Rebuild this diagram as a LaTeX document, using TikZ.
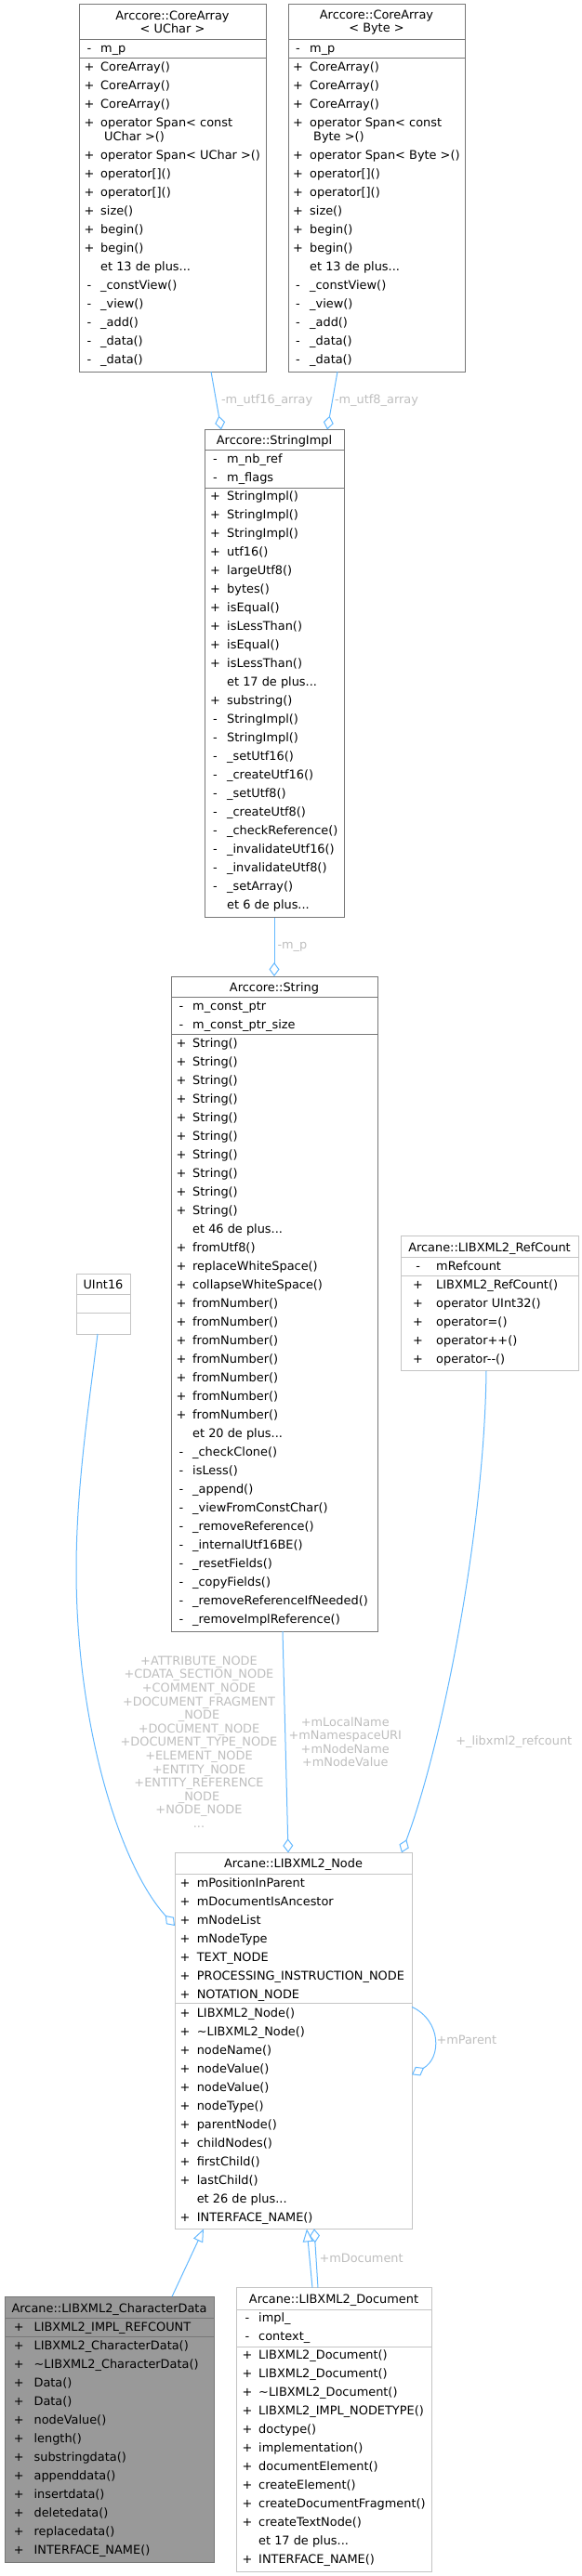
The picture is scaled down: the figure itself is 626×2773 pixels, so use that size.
\documentclass[tikz,border=0pt]{standalone}
\usepackage{fontspec}
\setmainfont{DejaVu Sans}
\usepackage{xcolor}
\usepackage{tikz}
\usetikzlibrary{arrows.meta,positioning,calc}
\definecolor{edgeblue}{HTML}{63B8FF}
\definecolor{lblgrey}{HTML}{BEBEBE}
\definecolor{darkframe}{HTML}{777777}
\definecolor{lightframe}{HTML}{C4C4C4}
\definecolor{basefill}{HTML}{999999}
\newcommand{\dxfont}{\fontsize{12.9}{14.6}\selectfont}
\newcommand{\moredots}{...}
% one row per member: box prefix, symbol x, text x, first row centre, sym/text list
\newcommand{\memberrows}[5]{%
  \foreach \v/\t [count=\i] in {#5} {
    \node[vis] (#1v\i) at (#2,{#4+20*(\i-1)+4.7}) {\v};
    \node[member] (#1m\i) at (#3,{#4+20*(\i-1)+4.7}) {\t};
  }%
}

\begin{document}
\begin{tikzpicture}[x=1pt, y=-1pt,
  every node/.style={font=\dxfont},
  cls/.style={draw=darkframe, line width=1pt, fill=white, anchor=north west,
    inner sep=0pt, outer sep=0pt},
  plaincls/.style={cls, draw=lightframe},
  basecls/.style={cls, fill=basefill},
  div/.style={darkframe, line width=1pt},
  plaindiv/.style={lightframe, line width=1pt},
  ttl/.style={inner sep=0pt, anchor=base},
  vis/.style={inner sep=0pt, anchor=base},
  member/.style={inner sep=0pt, anchor=base west},
  agg/.style={edgeblue, line width=1pt, -{Diamond[open, length=15pt, width=11pt]}},
  inh/.style={edgeblue, line width=1pt, -{Triangle[open, length=14pt, width=11pt]}},
  lbl/.style={text=lblgrey, inner sep=1pt, align=center}
]
\useasboundingbox (0,0) rectangle (626,2773);

% CoreArray< UChar >
\node[cls, minimum width=201, minimum height=395.3] (uchar) at (85,4.7) {};
\node[ttl, anchor=center, align=center] (uchar-t) at (185.5,24) {Arccore::CoreArray\\< UChar >};
\draw[div] ([yshift=-37.6pt]uchar.north west) -- ([yshift=-37.6pt]uchar.north east);
\draw[div] ([yshift=-57.6pt]uchar.north west) -- ([yshift=-57.6pt]uchar.north east);
\memberrows{uchar-a}{96}{108}{51.7}{-/m\_p}
\memberrows{uchar-f}{96}{108}{71.7}{+/CoreArray(), +/CoreArray(), +/CoreArray()}
\node[vis] (uchar-s) at (96,136.4) {+};
\node[member] (uchar-s1) at (108,136.4) {operator Span< const};
\node[member] (uchar-s2) at (112,151.4) {UChar >()};
\memberrows{uchar-g}{96}{108}{166.7}{+/operator Span< UChar >(), +/operator[](), +/operator[](),
  +/size(), +/begin(), +/begin(), {}/et 13 de plus\moredots, -/\_constView(), -/\_view(),
  -/\_add(), -/\_data(), -/\_data()}

% CoreArray< Byte >
\node[cls, minimum width=190, minimum height=395.3] (ubyte) at (310,4.7) {};
\node[ttl, anchor=center, align=center] (ubyte-t) at (405,24) {Arccore::CoreArray\\< Byte >};
\draw[div] ([yshift=-37.6pt]ubyte.north west) -- ([yshift=-37.6pt]ubyte.north east);
\draw[div] ([yshift=-57.6pt]ubyte.north west) -- ([yshift=-57.6pt]ubyte.north east);
\memberrows{ubyte-a}{320.5}{333}{51.7}{-/m\_p}
\memberrows{ubyte-f}{320.5}{333}{71.7}{+/CoreArray(), +/CoreArray(), +/CoreArray()}
\node[vis] (ubyte-s) at (320.5,136.4) {+};
\node[member] (ubyte-s1) at (333,136.4) {operator Span< const};
\node[member] (ubyte-s2) at (337,151.4) {Byte >()};
\memberrows{ubyte-g}{320.5}{333}{166.7}{+/operator Span< Byte >(), +/operator[](), +/operator[](),
  +/size(), +/begin(), +/begin(), {}/et 13 de plus\moredots, -/\_constView(), -/\_view(),
  -/\_add(), -/\_data(), -/\_data()}

% StringImpl
\node[cls, minimum width=150, minimum height=525] (strimpl) at (220,462.5) {};
\node[ttl] (strimpl-t) at (295,478.4) {Arccore::StringImpl};
\draw[div] ([yshift=-22.3pt]strimpl.north west) -- ([yshift=-22.3pt]strimpl.north east);
\draw[div] ([yshift=-62.5pt]strimpl.north west) -- ([yshift=-62.5pt]strimpl.north east);
\memberrows{strimpl-a}{231.5}{244}{494}{-/m\_nb\_ref, -/m\_flags}
\memberrows{strimpl-f}{231.5}{244}{534}{+/StringImpl(), +/StringImpl(), +/StringImpl(), +/utf16(),
  +/largeUtf8(), +/bytes(), +/isEqual(), +/isLessThan(), +/isEqual(), +/isLessThan(),
  {}/et 17 de plus\moredots, +/substring(), -/StringImpl(), -/StringImpl(), -/\_setUtf16(),
  -/\_createUtf16(), -/\_setUtf8(), -/\_createUtf8(), -/\_checkReference(),
  -/\_invalidateUtf16(), -/\_invalidateUtf8(), -/\_setArray(), {}/et 6 de plus\moredots}

% String
\node[cls, minimum width=222, minimum height=705] (string) at (184,1051) {};
\node[ttl] (string-t) at (295,1067.4) {Arccore::String};
\draw[div] ([yshift=-22.3pt]string.north west) -- ([yshift=-22.3pt]string.north east);
\draw[div] ([yshift=-62.3pt]string.north west) -- ([yshift=-62.3pt]string.north east);
\memberrows{string-a}{195}{207}{1082.7}{-/m\_const\_ptr, -/m\_const\_ptr\_size}
\memberrows{string-f}{195}{207}{1122.7}{+/String(), +/String(), +/String(), +/String(), +/String(),
  +/String(), +/String(), +/String(), +/String(), +/String(), {}/et 46 de plus\moredots,
  +/fromUtf8(), +/replaceWhiteSpace(), +/collapseWhiteSpace(), +/fromNumber(), +/fromNumber(),
  +/fromNumber(), +/fromNumber(), +/fromNumber(), +/fromNumber(), +/fromNumber(),
  {}/et 20 de plus\moredots, -/\_checkClone(), -/isLess(), -/\_append(), -/\_viewFromConstChar(),
  -/\_removeReference(), -/\_internalUtf16BE(), -/\_resetFields(), -/\_copyFields(),
  -/\_removeReferenceIfNeeded(), -/\_removeImplReference()}

% UInt16
\node[plaincls, minimum width=58, minimum height=65] (uint16) at (82,1371) {};
\node[ttl] (uint16-t) at (111,1387.4) {UInt16};
\draw[plaindiv] ([yshift=-22.3pt]uint16.north west) -- ([yshift=-22.3pt]uint16.north east);
\draw[plaindiv] ([yshift=-42.3pt]uint16.north west) -- ([yshift=-42.3pt]uint16.north east);

% LIBXML2_RefCount
\node[plaincls, minimum width=191, minimum height=145] (refcount) at (431,1330.7) {};
\node[ttl] (refcount-t) at (526.5,1347.4) {Arcane::LIBXML2\_RefCount};
\draw[plaindiv] ([yshift=-22.6pt]refcount.north west) -- ([yshift=-22.6pt]refcount.north east);
\draw[plaindiv] ([yshift=-42.6pt]refcount.north west) -- ([yshift=-42.6pt]refcount.north east);
\memberrows{refcount-a}{449.6}{469}{1362.7}{-/mRefcount}
\memberrows{refcount-f}{449.6}{469}{1382.7}{+/LIBXML2\_RefCount(), +/operator UInt32(),
  +/operator=(), +/operator++(), +/operator-{}-()}

% LIBXML2_Node
\node[plaincls, minimum width=255, minimum height=405] (xmlnode) at (188,1994.3) {};
\node[ttl] (xmlnode-t) at (315.5,2010.7) {Arcane::LIBXML2\_Node};
\draw[plaindiv] ([yshift=-23pt]xmlnode.north west) -- ([yshift=-23pt]xmlnode.north east);
\draw[plaindiv] ([yshift=-162.4pt]xmlnode.north west) -- ([yshift=-162.4pt]xmlnode.north east);
\memberrows{xmlnode-a}{199}{211.6}{2026.3}{+/mPositionInParent, +/mDocumentIsAncestor,
  +/mNodeList, +/mNodeType, +/TEXT\_NODE, +/PROCESSING\_INSTRUCTION\_NODE, +/NOTATION\_NODE}
\memberrows{xmlnode-f}{199}{211.6}{2166.3}{+/LIBXML2\_Node(), +/\textasciitilde LIBXML2\_Node(),
  +/nodeName(), +/nodeValue(), +/nodeValue(), +/nodeType(), +/parentNode(), +/childNodes(),
  +/firstChild(), +/lastChild(), {}/et 26 de plus\moredots, +/INTERFACE\_NAME()}

% LIBXML2_CharacterData
\node[basecls, minimum width=225, minimum height=286] (chardata) at (5,2472.3) {};
\node[ttl] (chardata-t) at (117.5,2489) {Arcane::LIBXML2\_CharacterData};
\draw[div] ([yshift=-23.4pt]chardata.north west) -- ([yshift=-23.4pt]chardata.north east);
\draw[div] ([yshift=-42.7pt]chardata.north west) -- ([yshift=-42.7pt]chardata.north east);
\memberrows{chardata-a}{20.4}{36.4}{2504.3}{+/LIBXML2\_IMPL\_REFCOUNT}
\memberrows{chardata-f}{20.4}{36.4}{2524.3}{+/LIBXML2\_CharacterData(),
  +/\textasciitilde LIBXML2\_CharacterData(), +/Data(), +/Data(), +/nodeValue(), +/length(),
  +/substringdata(), +/appenddata(), +/insertdata(), +/deletedata(), +/replacedata(),
  +/INTERFACE\_NAME()}

% LIBXML2_Document
\node[plaincls, minimum width=210, minimum height=305.6] (xmldoc) at (254,2462.7) {};
\node[ttl] (xmldoc-t) at (359,2479.7) {Arcane::LIBXML2\_Document};
\draw[plaindiv] ([yshift=-23.3pt]xmldoc.north west) -- ([yshift=-23.3pt]xmldoc.north east);
\draw[plaindiv] ([yshift=-63.3pt]xmldoc.north west) -- ([yshift=-63.3pt]xmldoc.north east);
\memberrows{xmldoc-a}{266}{278}{2494.7}{-/impl\_, -/context\_}
\memberrows{xmldoc-f}{266}{278}{2534.5}{+/LIBXML2\_Document(), +/LIBXML2\_Document(),
  +/\textasciitilde LIBXML2\_Document(), +/LIBXML2\_IMPL\_NODETYPE(), +/doctype(),
  +/implementation(), +/documentElement(), +/createElement(), +/createDocumentFragment(),
  +/createTextNode(), {}/et 17 de plus\moredots, +/INTERFACE\_NAME()}

% usage edges
\draw[agg] ([xshift=41.5pt]uchar.south) -- ([xshift=-57pt]strimpl.north)
  node[lbl, midway, right=4pt] {-m\_utf16\_array};
\draw[agg] ([xshift=-42pt]ubyte.south) -- ([xshift=57pt]strimpl.north)
  node[lbl, midway, right=1pt] {-m\_utf8\_array};
\draw[agg] (strimpl.south) -- (string.north)
  node[lbl, midway, right=2pt] {-m\_p};
\draw[agg] ([xshift=9pt]string.south) -- ([xshift=-5.5pt]xmlnode.north)
  node[lbl, midway, right=2pt] {+mLocalName\\+mNamespaceURI\\+mNodeName\\+mNodeValue};
\draw[agg] ([xshift=-3.5pt]refcount.south) .. controls (521,1650) and (475,1880)
  .. ([xshift=116.5pt]xmlnode.north)
  node[lbl, pos=0.72, right=21pt] {+\_libxml2\_refcount};
\draw[agg] ([xshift=-6pt]uint16.south) .. controls (96,1510) and (82,1600) .. (82,1690)
  .. controls (82,1860) and (130,2010) .. ([yshift=123.8pt]xmlnode.west);
\node[lbl] (nodetypes) at (214,1875) {+ATTRIBUTE\_NODE\\+CDATA\_SECTION\_NODE\\+COMMENT\_NODE\\
  +DOCUMENT\_FRAGMENT\\\_NODE\\+DOCUMENT\_NODE\\+DOCUMENT\_TYPE\_NODE\\+ELEMENT\_NODE\\
  +ENTITY\_NODE\\+ENTITY\_REFERENCE\\\_NODE\\+NODE\_NODE\\...};
\draw[agg] ([yshift=36.5pt]xmlnode.east) .. controls +(32,15) and +(32,-18)
  .. ([yshift=-36.5pt]xmlnode.east)
  node[lbl, midway, right=1pt] {+mParent};

% inheritance
\draw[inh] ([xshift=67.5pt]chardata.north) -- ([xshift=-96.5pt]xmlnode.south);
\draw[inh] ([xshift=-23pt]xmldoc.north) -- ([xshift=14.5pt]xmlnode.south);
\draw[agg] ([xshift=-17pt]xmldoc.north) -- ([xshift=22.5pt]xmlnode.south)
  node[lbl, midway, right=2pt] {+mDocument};
\end{tikzpicture}
\end{document}
